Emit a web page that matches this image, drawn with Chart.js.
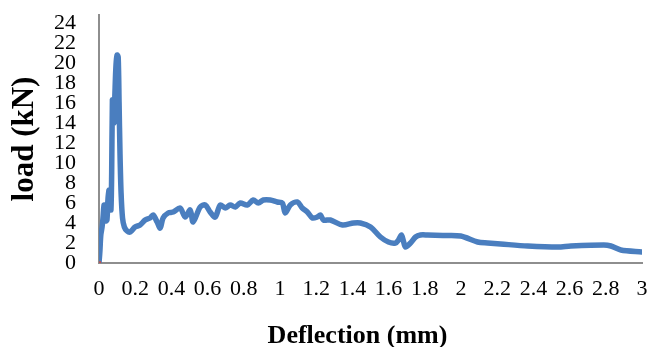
<!DOCTYPE html>
<html>
<head>
<meta charset="utf-8">
<script src="https://cdn.jsdelivr.net/npm/chart.js@4/dist/chart.umd.min.js"></script>
<style>
  html, body { margin: 0; padding: 0; background: #ffffff; }
  #wrap { width: 649px; height: 347px; }
</style>
</head>
<body>
<div id="wrap"><canvas id="c" width="649" height="347"></canvas></div>
<script>
// Deflection (mm) and load (kN)
const deflection = [
  0, 0.005, 0.01, 0.017, 0.022, 0.028, 0.033, 0.038, 0.044, 0.05, 0.056, 0.061, 0.066, 0.07, 0.074,
  0.078, 0.083, 0.088, 0.094, 0.1, 0.106, 0.111, 0.116, 0.122, 0.13, 0.14, 0.155, 0.172,
  0.199, 0.227, 0.255, 0.282, 0.299, 0.321, 0.338, 0.354, 0.382, 0.41, 0.448, 0.476, 0.504, 0.52,
  0.559, 0.587, 0.614, 0.642, 0.67, 0.697, 0.725, 0.753, 0.78, 0.819, 0.852, 0.88, 0.908, 0.946,
  0.985, 1.013, 1.029, 1.057, 1.096, 1.123, 1.151, 1.179, 1.206, 1.223, 1.24, 1.278, 1.345, 1.406,
  1.444, 1.5, 1.555, 1.599, 1.638, 1.655, 1.671, 1.682, 1.693, 1.721, 1.749, 1.776, 1.815, 1.9,
  1.998, 2.092, 2.147, 2.219, 2.369, 2.535, 2.607, 2.789, 2.828, 2.883, 3.0
];
const load = [
  0, 1.2, 2.8, 3.6, 4.5, 5.8, 5.6, 4.2, 4.3, 6.5, 7.3, 5.5, 5.3, 9.0, 16.3,
  15.5, 14.0, 17.0, 19.8, 20.8, 20.6, 16.0, 11.0, 7.0, 4.5, 3.6, 3.2, 3.1,
  3.6, 3.8, 4.3, 4.5, 4.8, 4.1, 3.5, 4.5, 5.0, 5.1, 5.5, 4.6, 5.3, 4.1,
  5.6, 5.8, 5.1, 4.6, 5.8, 5.5, 5.8, 5.6, 6.0, 5.8, 6.3, 6.0, 6.3, 6.3,
  6.1, 6.0, 5.0, 5.8, 6.1, 5.5, 5.1, 4.5, 4.6, 4.8, 4.3, 4.3, 3.8, 4.0,
  4.0, 3.6, 2.6, 2.1, 2.0, 2.3, 2.8, 2.2, 1.6, 2.0, 2.6, 2.8, 2.8, 2.75,
  2.7, 2.1, 2.0, 1.9, 1.7, 1.6, 1.7, 1.8, 1.7, 1.3, 1.1
];
// small second series visible at the origin
const deflection2 = [0, 0.012];
const load2 = [0, 0.05];

const xTickValues = [0, 0.2, 0.4, 0.6, 0.8, 1, 1.2, 1.4, 1.6, 1.8, 2, 2.2, 2.4, 2.6, 2.8, 3];
const xTickLabels = ['0', '0.2', '0.4', '0.6', '0.8', '1', '1.2', '1.4', '1.6', '1.8', '2', '2.2', '2.4', '2.6', '2.8', '3'];
const yTickValues = [0, 2, 4, 6, 8, 10, 12, 14, 16, 18, 20, 22, 24];
const yTickLabels = ['0', '2', '4', '6', '8', '10', '12', '14', '16', '18', '20', '22', '24'];

const xTitle = 'Deflection (mm)';
const yTitle = 'load (kN)';

const mainPoints = deflection.map((d, i) => ({ x: d, y: load[i] }));
const redPoints = deflection2.map((d, i) => ({ x: d, y: load2[i] }));

const serif = '"Liberation Serif", "Times New Roman", serif';

new Chart(document.getElementById('c'), {
  type: 'line',
  data: {
    datasets: [
      {
        data: mainPoints,
        borderColor: '#4a7ebf',
        borderWidth: 5.5,
        pointRadius: 0,
        tension: 0.3,
        fill: false,
        order: 1,
        borderCapStyle: 'round',
        borderJoinStyle: 'round'
      },
      {
        data: redPoints,
        borderColor: '#c0504d',
        borderWidth: 3,
        pointRadius: 0,
        fill: false,
        order: 0
      }
    ]
  },
  options: {
    responsive: false,
    animation: false,
    events: [],
    layout: { padding: { top: 15, right: 7, left: 0, bottom: 0 } },
    plugins: { legend: { display: false }, tooltip: { enabled: false } },
    scales: {
      x: {
        type: 'linear',
        min: 0,
        max: 3,
        afterBuildTicks: (scale) => { scale.ticks = xTickValues.map(v => ({ value: v })); },
        afterFit: (scale) => {
          scale.height = 84;
          scale.paddingLeft = 0; scale.paddingRight = 0; scale.paddingTop = 0; scale.paddingBottom = 0;
        },
        grid: { display: false, drawTicks: false },
        border: { display: true, color: '#8e8e8e', width: 2 },
        ticks: {
          autoSkip: false,
          maxRotation: 0,
          minRotation: 0,
          padding: 13,
          color: '#000000',
          font: { family: serif, size: 22 },
          callback: (v, i) => xTickLabels[i]
        },
        title: {
          display: true,
          text: xTitle + '\u00a0\u00a0\u00a0\u00a0',
          color: '#000000',
          font: { family: serif, size: 26, weight: 'bold', lineHeight: 0.8 },
          padding: { top: 0, bottom: 0 }
        }
      },
      y: {
        type: 'linear',
        min: 0,
        max: 24.8,
        afterBuildTicks: (scale) => { scale.ticks = yTickValues.map(v => ({ value: v })); },
        afterFit: (scale) => {
          scale.width = 99;
          scale.paddingLeft = 0; scale.paddingRight = 0; scale.paddingTop = 0; scale.paddingBottom = 0;
        },
        grid: { display: false, drawTicks: false },
        border: { display: true, color: '#8e8e8e', width: 2 },
        ticks: {
          autoSkip: false,
          padding: 23,
          color: '#000000',
          font: { family: serif, size: 22, lineHeight: 1 },
          callback: (v, i) => yTickLabels[i]
        },
        title: {
          display: true,
          text: yTitle,
          color: '#000000',
          font: { family: serif, size: 31, weight: 'bold', lineHeight: 1.2 },
          padding: { top: 6, bottom: 0 }
        }
      }
    }
  }
});
</script>
</body>
</html>
